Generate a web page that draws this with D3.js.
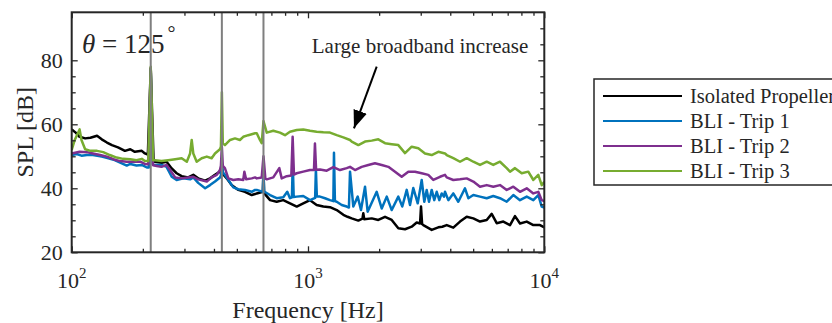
<!DOCTYPE html>
<html>
<head>
<meta charset="utf-8">
<script src="https://cdn.jsdelivr.net/npm/d3@7"></script>
<style>
  body { margin: 0; background: #fff; }
  text { font-family: "Liberation Serif", "Times New Roman", serif; fill: #262626; }
</style>
</head>
<body>
<div id="chart"></div>
<script>
// ---- data (frequency in Hz, SPL in dB) ----
const seriesNames = ["Isolated Propeller", "BLI - Trip 1", "BLI - Trip 2", "BLI - Trip 3"];

const isolated = [
  [100,58.4],[104,57.4],[108,56.1],[114,55.6],[120,55.8],[128,56.4],[134,55.3],[141,54.3],[148,53.5],
  [157,52.8],[168,51.7],[177,52.2],[185,51.4],[198,51.7],[204,50.9],[210,50.5],[216,77.5],[222,49],
  [225,48.3],[240,48],[252,48.3],[265,46.2],[278,44.7],[292,43.8],[311,43.4],[327,44.2],[343,43.1],
  [367,42.4],[385,43.1],[404,44.2],[424,45.2],[428,45.5],[432,47],[436,44.5],[453,43.1],[475,41],
  [507,39.5],[541,38.9],[578,37.9],[597,38.2],[607,38.4],[644,38.9],[648,46],[652,38.5],[691,36.3],
  [737,35.8],[786,36.3],[839,35.3],[896,34.3],[955,35.3],[1020,36.3],[1088,34.8],[1161,34.3],
  [1239,34.1],[1323,33.2],[1411,31.7],[1470,31.1],[1531,30.6],[1633,29.9],[1700,30.5],[1714,32.2],
  [1730,30.3],[1861,30.6],[1984,30.1],[2118,31.1],[2261,30.1],[2411,27.5],[2574,27.2],[2747,28],
  [2884,29.3],[2980,29],[3008,34.3],[3040,28.8],[3076,28.5],[3338,27],[3560,27.8],[3700,28],
  [3864,28.5],[4120,27.7],[4399,29.6],[4695,31.1],[5007,30.6],[5345,29.6],[5705,30.1],[5990,32],
  [6289,29.1],[6708,29.6],[7160,28.5],[7516,31.3],[7892,29],[8425,29.6],[8987,28.5],[9590,28.5],[10000,27.8]
];

const trip1 = [
  [100,50.4],[105,50.7],[110,50.2],[116,50.4],[123,50.4],[134,49.9],[143,49.4],[152,48.8],[163,47.8],
  [171,47.1],[177,47.6],[188,47.1],[198,47.3],[208,46.5],[212,46.5],[216,77],[220,47.5],[225,47.3],
  [240,47.3],[252,46.7],[265,43.6],[278,42.6],[297,43.1],[317,42.8],[327,43.4],[343,41.7],[367,40],
  [385,41],[404,42.1],[424,43.4],[428,44],[432,47],[436,45],[445,44.2],[460,42.6],[483,40.3],
  [507,39.7],[541,39.5],[578,38.9],[597,39.5],[607,39.5],[644,38.9],[648,45],[652,39],[691,37.9],
  [737,36.9],[786,37.2],[817,38.9],[839,36.9],[855,37.2],[862,48],[870,37.3],[896,37.4],[955,37.6],
  [1020,36.3],[1072,37],[1080,46],[1090,37.4],[1124,37.4],[1180,36.9],[1239,36.3],[1280,36],
  [1288,51.1],[1300,36],[1323,35.8],[1389,34.8],[1458,34.3],[1490,34],[1506,45.2],[1555,34.3],
  [1623,37.4],[1676,33.2],[1743,40.5],[1788,32.7],[1953,38.9],[2051,33.7],[2154,37.4],[2261,33.2],
  [2411,37.4],[2506,34.3],[2617,39.5],[2702,34.8],[2790,40.1],[2913,35.3],[3028,42.6],[3106,35.8],
  [3179,39.5],[3252,35.8],[3338,39.5],[3423,36.3],[3505,38.9],[3595,36.3],[3680,38.4],[3760,37.4],
  [3800,38.9],[3925,36.3],[4120,38.4],[4325,35.8],[4617,40],[4770,36.9],[5007,37.9],[5345,37.4],
  [5705,36.9],[6084,37.6],[6493,36.9],[6933,35.8],[7394,37.9],[7892,36.3],[8425,37.4],[8987,36.3],
  [9432,37.9],[9750,34.3],[10000,34]
];

const trip2 = [
  [100,50.9],[108,51.4],[116,51.3],[123,50.9],[132,50.4],[141,49.9],[150,49.1],[160,48.5],[171,48.3],
  [182,48.3],[195,48.3],[204,47.6],[211,47.5],[216,77.5],[221,47.2],[229,47],[240,46.7],[252,47.3],
  [261,45.7],[274,43.4],[292,43.1],[311,43.4],[327,43.6],[343,42.8],[373,42.1],[391,43.4],[411,44.2],
  [424,45.7],[428,47],[432,53],[436,47],[445,46.3],[460,43.1],[483,42.6],[507,42.8],[532,42.6],
  [538,45.2],[547,42.8],[578,43.1],[597,43.4],[607,43.1],[637,43.4],[648,50],[660,43],[669,42.8],
  [713,43.4],[756,46.3],[774,43.1],[813,43.8],[850,44],[861,56.1],[872,44.3],[896,44.7],[955,45.2],
  [1020,45.7],[1060,45.7],[1070,54],[1082,45.8],[1124,45.9],[1200,45.5],[1280,46.6],[1366,45.7],
  [1458,46.3],[1506,46.7],[1581,45.7],[1687,46.7],[1800,47.3],[1920,47.8],[2051,47.3],[2188,46.7],
  [2335,45.2],[2492,43.6],[2658,45.2],[2837,45.2],[3028,44.7],[3229,44.2],[3390,42.6],[3620,43.6],
  [3800,44.2],[3864,43.4],[4120,42.6],[4399,42.8],[4695,43.1],[5007,42.1],[5345,40.5],[5705,41],
  [6084,40.5],[6493,41],[6933,39.5],[7394,40.5],[7892,38.9],[8425,40],[8987,38.4],[9432,38.9],
  [9750,36.3],[10000,36]
];

const trip3 = [
  [100,52],[103,55.1],[108,58.4],[110,55.1],[114,52.2],[120,51.7],[128,51.7],[136,51.3],[145,50.4],
  [155,49.6],[165,49.2],[177,49.1],[188,48.8],[198,49.2],[204,48.5],[211,48.5],[216,78],[221,48.8],
  [225,48.8],[240,48.5],[256,48.8],[274,49.1],[292,49.4],[307,48.3],[317,50.9],[322,55.1],[327,50.9],
  [338,48.3],[355,49.4],[373,49.9],[391,49.4],[404,50.9],[424,52.2],[428,53],[432,70],[436,54],
  [445,53.5],[468,55.1],[491,55.6],[515,55.1],[532,56.1],[559,56.6],[597,57.2],[607,57.2],[626,55.1],
  [637,54.1],[648,61],[669,57.4],[713,58],[761,57.4],[799,56.6],[839,57.7],[896,58.2],[955,58.4],
  [1020,58],[1088,57.7],[1161,57.5],[1239,57.4],[1323,56.6],[1411,55.9],[1506,55.1],[1531,54.6],
  [1633,53.5],[1743,54.6],[1861,54.9],[1984,55.3],[2118,54.1],[2261,53.8],[2411,53.5],[2574,51],
  [2747,53],[2930,52.5],[3127,50.9],[3338,50.4],[3560,51.4],[3800,50.9],[3864,50.4],[4120,49.4],
  [4399,48.3],[4695,49.4],[5007,48.3],[5345,47.3],[5705,48.3],[6084,47.3],[6493,48.3],[6933,46.3],
  [7160,45.2],[7516,46.3],[8025,44.7],[8556,45.2],[8987,42.6],[9432,44.2],[9750,41],[10000,42]
];

// blade passing frequency and harmonics (gray markers)
const bpfLines = [216, 432, 648];

const yTickValues = [20, 40, 60, 80];
const xTickValues = [100, 1000, 10000];
const xTickExponents = ["2", "3", "4"];

const angleLabel = "125";
const annotationText = "Large broadband increase";

// ---- layout ----
const W = 832, H = 323;
const plot = { left: 71.7, right: 544.3, top: 12.3, bottom: 252.3 };
const colors = ["#000000", "#0072BD", "#7E2F8E", "#77AC30"];
const axisColor = "#262626";

const svg = d3.select("#chart").append("svg")
  .attr("width", W).attr("height", H);

const x = d3.scaleLog().domain([100, 10000]).range([plot.left, plot.right]);
const y = d3.scaleLinear().domain([20, 95]).range([plot.bottom, plot.top]);

svg.append("clipPath").attr("id", "clip")
  .append("rect")
  .attr("x", plot.left).attr("y", plot.top)
  .attr("width", plot.right - plot.left).attr("height", plot.bottom - plot.top);

// ---- series ----
const line = d3.line().x(d => x(d[0])).y(d => y(d[1]));
const allSeries = [isolated, trip1, trip2, trip3];

const lines = svg.append("g").attr("clip-path", "url(#clip)");
allSeries.forEach((s, i) => {
  lines.append("path")
    .datum(s)
    .attr("d", line)
    .attr("fill", "none")
    .attr("stroke", colors[i])
    .attr("stroke-width", 2.5)
    .attr("stroke-linejoin", "round");
});

// gray harmonic lines on top
lines.selectAll(".bpf").data(bpfLines).enter().append("line")
  .attr("class", "bpf")
  .attr("x1", d => x(d)).attr("x2", d => x(d))
  .attr("y1", plot.top).attr("y2", plot.bottom)
  .attr("stroke", "#7f7f7f").attr("stroke-width", 2);

// ---- axes (ticks pointing inward) ----
const minorX = [];
[100, 1000].forEach(dec => { for (let k = 2; k <= 9; k++) minorX.push(dec * k); });
const minorY = d3.range(25, 95, 5).filter(v => v % 20 !== 0);

function styleAxis(g) {
  g.select(".domain").remove();
  g.selectAll("line").attr("stroke", axisColor).attr("stroke-width", 1.3);
}

svg.append("g").attr("transform", `translate(0,${plot.bottom})`)
  .call(d3.axisBottom(x).tickValues(xTickValues).tickSize(-6).tickFormat("")).call(styleAxis);
svg.append("g").attr("transform", `translate(0,${plot.bottom})`)
  .call(d3.axisBottom(x).tickValues(minorX).tickSize(-3.5).tickFormat("")).call(styleAxis);
svg.append("g").attr("transform", `translate(0,${plot.top})`)
  .call(d3.axisTop(x).tickValues(xTickValues).tickSize(-6).tickFormat("")).call(styleAxis);
svg.append("g").attr("transform", `translate(0,${plot.top})`)
  .call(d3.axisTop(x).tickValues(minorX).tickSize(-3.5).tickFormat("")).call(styleAxis);

svg.append("g").attr("transform", `translate(${plot.left},0)`)
  .call(d3.axisLeft(y).tickValues(yTickValues).tickSize(-6).tickFormat("")).call(styleAxis);
svg.append("g").attr("transform", `translate(${plot.left},0)`)
  .call(d3.axisLeft(y).tickValues(minorY.filter(v => v < 80)).tickSize(-4).tickFormat("")).call(styleAxis);
svg.append("g").attr("transform", `translate(${plot.right},0)`)
  .call(d3.axisRight(y).tickValues(yTickValues).tickSize(-6).tickFormat("")).call(styleAxis);
svg.append("g").attr("transform", `translate(${plot.right},0)`)
  .call(d3.axisRight(y).tickValues(minorY).tickSize(-4).tickFormat("")).call(styleAxis);

// box
svg.append("rect")
  .attr("x", plot.left).attr("y", plot.top)
  .attr("width", plot.right - plot.left).attr("height", plot.bottom - plot.top)
  .attr("fill", "none").attr("stroke", axisColor).attr("stroke-width", 2);

// tick labels
svg.selectAll(".ylab").data(yTickValues).enter().append("text")
  .attr("class", "ylab")
  .attr("x", plot.left - 9).attr("y", d => y(d) + 7.5)
  .attr("text-anchor", "end").attr("font-size", 22)
  .text(d => d);

xTickValues.forEach((v, i) => {
  const t = svg.append("text")
    .attr("x", x(v)).attr("y", 287.7)
    .attr("text-anchor", "middle").attr("font-size", 22);
  t.append("tspan").text("10");
  t.append("tspan").attr("dy", -10).attr("font-size", 15).text(xTickExponents[i]);
});

// axis titles
svg.append("text")
  .attr("x", (plot.left + plot.right) / 2).attr("y", 318)
  .attr("text-anchor", "middle").attr("font-size", 24)
  .text("Frequency [Hz]");
svg.append("text")
  .attr("transform", `translate(33,${(plot.top + plot.bottom) / 2}) rotate(-90)`)
  .attr("text-anchor", "middle").attr("font-size", 24)
  .text("SPL [dB]");

// angle label
const th = svg.append("text")
  .attr("x", x(110.6)).attr("y", y(82.4))
  .attr("font-size", 27);
th.append("tspan").attr("font-style", "italic").text("θ");
th.append("tspan").text(" = " + angleLabel);
th.append("tspan").attr("dx", 3).attr("dy", -13).attr("font-size", 20).text("°");

// annotation with arrow
svg.append("text")
  .attr("x", x(2980)).attr("y", y(82.3))
  .attr("text-anchor", "middle").attr("font-size", 21)
  .text(annotationText);

svg.append("defs").append("marker")
  .attr("id", "arrow").attr("viewBox", "0 0 18 14")
  .attr("refX", 18).attr("refY", 7)
  .attr("markerWidth", 18).attr("markerHeight", 14)
  .attr("markerUnits", "userSpaceOnUse")
  .attr("orient", "auto")
  .append("path").attr("d", "M0,0 L18,7 L0,14 Z").attr("fill", "#000");

svg.append("line")
  .attr("x1", x(1953)).attr("y1", y(78))
  .attr("x2", x(1565)).attr("y2", y(58.75))
  .attr("stroke", "#000").attr("stroke-width", 2)
  .attr("marker-end", "url(#arrow)");

// ---- legend ----
const legend = svg.append("g");
legend.append("rect")
  .attr("x", 594).attr("y", 79).attr("width", 260).attr("height", 106)
  .attr("fill", "#fff").attr("stroke", axisColor).attr("stroke-width", 1.5);
const rowY = d3.scalePoint().domain(seriesNames).range([96, 171]);
seriesNames.forEach((name, i) => {
  legend.append("line")
    .attr("x1", 603).attr("x2", 682)
    .attr("y1", rowY(name)).attr("y2", rowY(name))
    .attr("stroke", colors[i]).attr("stroke-width", 2);
  legend.append("text")
    .attr("x", 690).attr("y", rowY(name) + 7)
    .attr("font-size", 20.5)
    .text(name);
});
</script>
</body>
</html>
